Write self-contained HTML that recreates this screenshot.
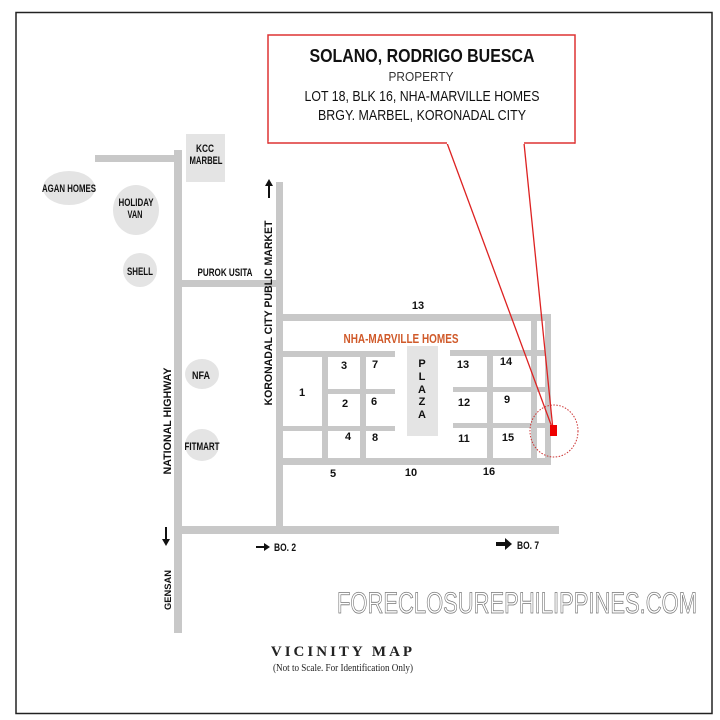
<!DOCTYPE html>
<html><head><meta charset="utf-8"><style>
html,body{margin:0;padding:0;background:#fff;}
svg{display:block;font-family:"Liberation Sans",sans-serif;}
.l{font-size:11px;font-weight:bold;fill:#111;text-anchor:middle;}
</style></head><body>
<svg width="720" height="720" viewBox="0 0 720 720" xmlns="http://www.w3.org/2000/svg">
<rect x="16" y="12.5" width="696" height="701" fill="#fff" stroke="#222" stroke-width="1.5"/>
<g fill="#c8c8c8">
<rect x="95" y="155" width="86" height="7"/>
<rect x="174" y="150" width="8" height="483"/>
<rect x="178" y="280" width="104" height="7"/>
<rect x="276" y="182" width="7" height="350"/>
<rect x="280" y="314" width="270" height="7"/>
<rect x="545" y="314" width="6" height="150"/>
<rect x="531" y="318" width="6" height="146"/>
<rect x="280" y="351" width="115" height="6"/>
<rect x="450" y="350" width="97" height="6"/>
<rect x="327" y="389" width="68" height="5"/>
<rect x="453" y="387" width="94" height="5"/>
<rect x="280" y="426" width="115" height="5"/>
<rect x="453" y="423" width="94" height="5"/>
<rect x="280" y="458" width="271" height="7"/>
<rect x="322" y="354" width="6" height="106"/>
<rect x="360" y="354" width="6" height="106"/>
<rect x="487" y="352" width="6" height="108"/>
<rect x="178" y="526" width="381" height="8"/>
</g>
<rect x="186" y="134" width="39" height="48" fill="#e4e4e4"/>
<rect x="407" y="346" width="31" height="90" fill="#e4e4e4"/>
<g fill="#e4e4e4">
<ellipse cx="69" cy="188" rx="26" ry="17"/>
<ellipse cx="136" cy="210" rx="23" ry="25"/>
<ellipse cx="140" cy="270" rx="17" ry="17"/>
<ellipse cx="202" cy="374" rx="17" ry="15"/>
<ellipse cx="202" cy="445" rx="17" ry="16"/>
</g>
<text class="l" x="69" y="192" textLength="54" lengthAdjust="spacingAndGlyphs">AGAN HOMES</text>
<text class="l" x="136" y="206" textLength="35" lengthAdjust="spacingAndGlyphs">HOLIDAY</text>
<text class="l" x="135" y="218" textLength="15" lengthAdjust="spacingAndGlyphs">VAN</text>
<text class="l" x="140" y="275" textLength="26" lengthAdjust="spacingAndGlyphs">SHELL</text>
<text class="l" x="205" y="152" textLength="18" lengthAdjust="spacingAndGlyphs">KCC</text>
<text class="l" x="206" y="164" textLength="33" lengthAdjust="spacingAndGlyphs">MARBEL</text>
<text class="l" x="225" y="276" textLength="55" lengthAdjust="spacingAndGlyphs">PUROK USITA</text>
<text class="l" x="201" y="379" textLength="18" lengthAdjust="spacingAndGlyphs">NFA</text>
<text class="l" x="202" y="450" textLength="35" lengthAdjust="spacingAndGlyphs">FITMART</text>
<text class="l" transform="translate(171,421) rotate(-90)" textLength="107" lengthAdjust="spacingAndGlyphs">NATIONAL HIGHWAY</text>
<text class="l" transform="translate(272,313) rotate(-90)" textLength="185" lengthAdjust="spacingAndGlyphs">KORONADAL  CITY PUBLIC MARKET</text>
<text class="l" transform="translate(171,590) rotate(-90)" style="font-size:9.5px" textLength="40" lengthAdjust="spacingAndGlyphs">GENSAN</text>
<text class="l" x="418" y="309">13</text>
<text x="401" y="343" textLength="115" lengthAdjust="spacingAndGlyphs" style="font-size:13px;font-weight:bold;fill:#d05a2a;text-anchor:middle">NHA-MARVILLE HOMES</text>
<text class="l" x="302" y="396">1</text>
<text class="l" x="344" y="369">3</text>
<text class="l" x="375" y="368">7</text>
<text class="l" x="345" y="407">2</text>
<text class="l" x="374" y="405">6</text>
<text class="l" x="348" y="440">4</text>
<text class="l" x="375" y="441">8</text>
<text class="l" x="422" y="367">P</text>
<text class="l" x="422" y="380">L</text>
<text class="l" x="422" y="393">A</text>
<text class="l" x="422" y="405">Z</text>
<text class="l" x="422" y="418">A</text>
<text class="l" x="463" y="368">13</text>
<text class="l" x="506" y="365">14</text>
<text class="l" x="464" y="406">12</text>
<text class="l" x="507" y="403">9</text>
<text class="l" x="464" y="442">11</text>
<text class="l" x="508" y="441">15</text>
<text class="l" x="333" y="477">5</text>
<text class="l" x="411" y="476">10</text>
<text class="l" x="489" y="475">16</text>
<text class="l" x="274" y="551" style="text-anchor:start" textLength="22" lengthAdjust="spacingAndGlyphs">BO. 2</text>
<text class="l" x="517" y="549" style="text-anchor:start" textLength="22" lengthAdjust="spacingAndGlyphs">BO. 7</text>
<path d="M256 546h8v-3l6 4-6 4v-3h-8z" fill="#111"/>
<path d="M496 542h9v-4l7 6-7 6v-4h-9z" fill="#111"/>
<path d="M268 198v-12h-3l4-7 4 7h-3v12z" fill="#111"/>
<path d="M165 527v12h-3l4 7 4-7h-3v-12z" fill="#111"/>
<rect x="268" y="35" width="307" height="108" fill="#fff" stroke="#d33" stroke-width="1.5"/>
<line x1="447" y1="143" x2="553" y2="430" stroke="#d22" stroke-width="1.3"/>
<line x1="524" y1="143" x2="553" y2="430" stroke="#d22" stroke-width="1.3"/>
<rect x="268.7" y="141" width="305.6" height="3" fill="#fff"/>
<path d="M268 143H447M524 143H575" stroke="#d33" stroke-width="1.5"/>
<rect x="550" y="425" width="7" height="11" fill="#e00"/>
<ellipse cx="554" cy="431" rx="24" ry="26" fill="none" stroke="#c33" stroke-width="1" stroke-dasharray="1.5,1.5"/>
<text x="422" y="62" textLength="225" lengthAdjust="spacingAndGlyphs" style="font-size:18px;font-weight:bold;fill:#111;text-anchor:middle">SOLANO, RODRIGO BUESCA</text>
<text x="421" y="81" textLength="65" lengthAdjust="spacingAndGlyphs" style="font-size:13px;fill:#333;text-anchor:middle">PROPERTY</text>
<text x="422" y="101" textLength="235" lengthAdjust="spacingAndGlyphs" style="font-size:15px;fill:#111;text-anchor:middle">LOT 18, BLK 16, NHA-MARVILLE HOMES</text>
<text x="422" y="120" textLength="208" lengthAdjust="spacingAndGlyphs" style="font-size:15px;fill:#111;text-anchor:middle">BRGY. MARBEL, KORONADAL CITY</text>
<text x="517" y="613" textLength="360" lengthAdjust="spacingAndGlyphs" style="font-size:30px;fill:#fff;stroke:#777;stroke-width:0.8;text-anchor:middle">FORECLOSUREPHILIPPINES.COM</text>
<text x="343" y="656" style="font-family:'Liberation Serif',serif;font-size:15px;font-weight:bold;fill:#222;text-anchor:middle;letter-spacing:3px">VICINITY MAP</text>
<text x="343" y="671" textLength="140" lengthAdjust="spacingAndGlyphs" style="font-family:'Liberation Serif',serif;font-size:10px;fill:#222;text-anchor:middle">(Not to Scale. For Identification Only)</text>
</svg>
</body></html>
